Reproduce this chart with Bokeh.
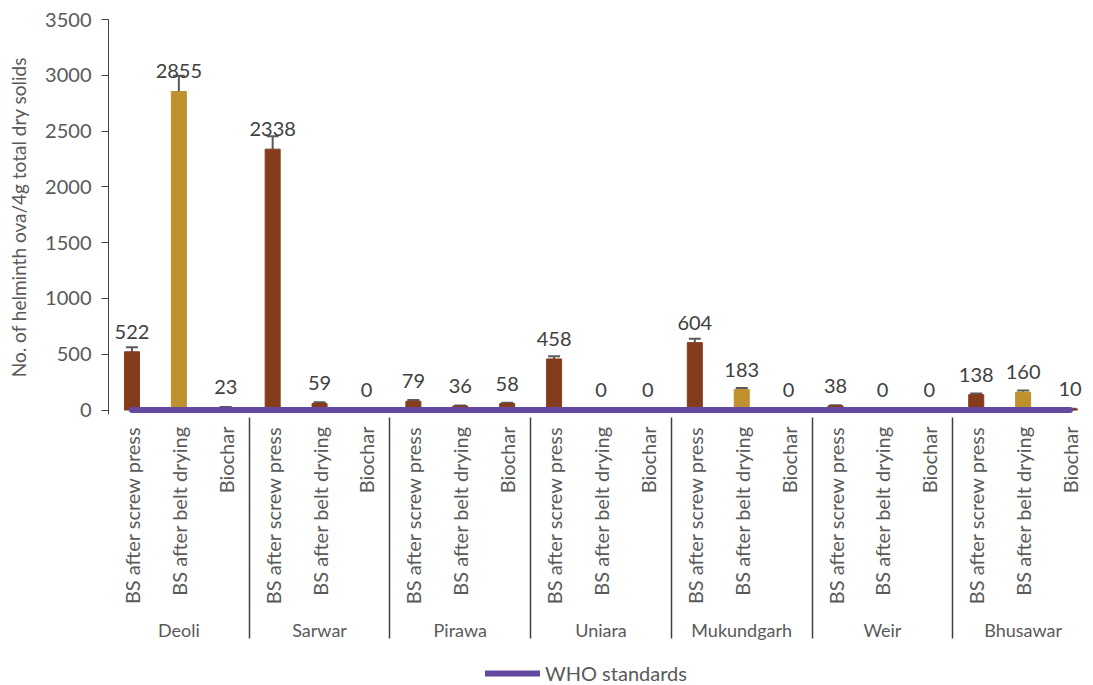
import math
from bokeh.plotting import figure
from bokeh.layouts import column
from bokeh.models import (ColumnDataSource, FactorRange, Range1d, Whisker, TeeHead,
                          Legend, LegendItem)
from bokeh.core.properties import value
from bokeh.embed import file_html
from bokeh.resources import INLINE

# ---------------- data ----------------
sites = ["Deoli", "Sarwar", "Pirawa", "Uniara", "Mukundgarh", "Weir", "Bhusawar"]
stages = ["BS after screw press", "BS after belt drying", "Biochar"]

screw_press = [522, 2338, 79, 458, 604, 38, 138]
belt_drying = [2855, 59, 36, 0, 183, 0, 160]
biochar = [23, 0, 58, 0, 0, 0, 10]

screw_press_err = [40, 115, 10, 25, 35, 5, 10]
belt_drying_err = [140, 10, 5, 0, 15, 0, 15]
biochar_err = [5, 0, 8, 0, 0, 0, 2]

# belt-drying bars drawn in gold at these sites
gold_sites = ["Deoli", "Mukundgarh", "Bhusawar"]

who_standard = 1
who_label = "WHO standards"
y_ticks = [0, 500, 1000, 1500, 2000, 2500, 3000, 3500]

BROWN = "#843C1C"
GOLD = "#BF912E"
PURPLE = "#6449A0"
TEXT = "#595959"
FONT = "Lato"

# ---------------- build table ----------------
xs, vals, errs, colors = [], [], [], []
for i, s in enumerate(sites):
    for st, arr, earr in zip(stages, [screw_press, belt_drying, biochar],
                             [screw_press_err, belt_drying_err, biochar_err]):
        xs.append((s, st))
        vals.append(arr[i])
        errs.append(earr[i])
        colors.append(GOLD if (st == stages[1] and s in gold_sites) else BROWN)

src = ColumnDataSource(dict(
    x=xs, v=vals, up=[v + e for v, e in zip(vals, errs)],
    lo=[v - e for v, e in zip(vals, errs)], c=colors,
    lab=[str(v) for v in vals]))

x_range = FactorRange(factors=xs, group_padding=0, factor_padding=0, range_padding=0)

p = figure(x_range=x_range, y_range=Range1d(-40, 3500),
           width=1093, height=644,
           output_backend="svg", toolbar_location=None, title=None,
           min_border_left=108, min_border_right=0, min_border_top=19, min_border_bottom=0)
p.outline_line_color = None
p.grid.grid_line_color = None
p.background_fill_color = "white"

p.vbar(x="x", top="v", width=0.32, source=src, fill_color="c", line_color="c")

wh = Whisker(base="x", upper="up", lower="lo", source=src, line_color="#5a5a5a", line_width=2,
             upper_head=TeeHead(size=12, line_color="#5a5a5a", line_width=2),
             lower_head=TeeHead(size=12, line_color="#5a5a5a", line_width=2))
p.add_layout(wh)

p.text(x="x", y="v", text="lab", source=src, text_align="center", text_baseline="bottom",
       y_offset=-13, text_font=value(FONT), text_font_size="20px", text_color="#404040")

p.line(x=[xs[0], xs[-1]], y=[who_standard, who_standard], line_color=PURPLE,
       line_width=6, line_cap="round")

# y axis
ya = p.yaxis[0]
ya.ticker = y_ticks
ya.axis_label = "No. of helminth ova/4g total dry solids"
ya.axis_label_text_font = FONT
ya.axis_label_text_font_style = "normal"
ya.axis_label_text_font_size = "19px"
ya.axis_label_text_color = TEXT
ya.axis_label_standoff = 12
ya.major_label_text_font = FONT
ya.major_label_text_font_size = "20px"
ya.major_label_text_color = TEXT
ya.major_label_standoff = 10
ya.minor_tick_line_color = None
ya.major_tick_in = 0
ya.major_tick_out = 7
ya.axis_line_color = "#404040"
ya.major_tick_line_color = "#404040"

# x axis
xa = p.xaxis[0]
xa.axis_line_color = None
xa.major_tick_line_color = None
xa.major_tick_out = 0
xa.major_tick_in = 0
xa.major_label_orientation = math.pi / 2
xa.major_label_standoff = 12
xa.major_label_text_font = FONT
xa.major_label_text_font_size = "20px"
xa.major_label_text_color = TEXT
xa.group_text_font = FONT
xa.group_text_font_size = "18px"
xa.group_text_color = TEXT
xa.group_text_font_style = "normal"
xa.separator_line_color = "#404040"
xa.separator_line_width = 1.5

# ---------------- legend strip ----------------
lf = figure(width=1093, height=41, x_range=Range1d(0, 1), y_range=Range1d(0, 1),
            output_backend="svg", toolbar_location=None, title=None,
            min_border=0)
lf.axis.visible = False
lf.grid.visible = False
lf.outline_line_color = None
who_r = lf.line(x=[5, 6], y=[5, 5], line_color=PURPLE, line_width=6, line_cap="round")
legend = Legend(items=[LegendItem(label=who_label, renderers=[who_r])],
                location=(377, 0), orientation="horizontal", border_line_color=None,
                background_fill_alpha=0, glyph_width=55, glyph_height=20,
                label_text_font=FONT, label_text_font_size="20px", label_text_color=TEXT,
                padding=2, margin=0)
lf.add_layout(legend, "center")

layout = column(p, lf, spacing=0)
open("out.html", "w").write(file_html(layout, INLINE))
